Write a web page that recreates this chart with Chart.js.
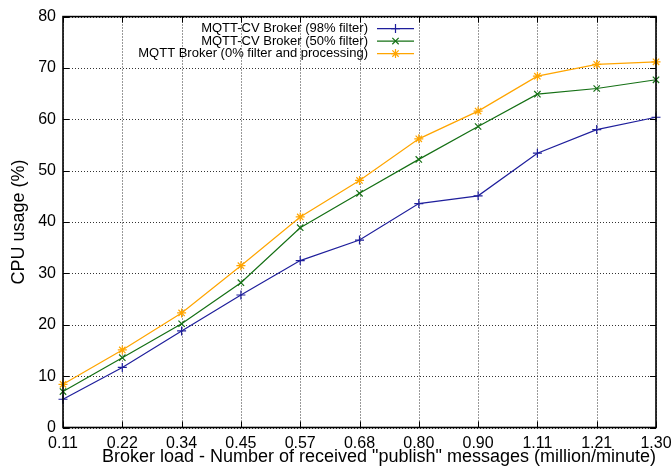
<!DOCTYPE html>
<html>
<head>
<meta charset="utf-8">
<script src="https://cdn.jsdelivr.net/npm/chart.js@4.4.1/dist/chart.umd.min.js"></script>
<style>
  html, body { margin: 0; padding: 0; background: #fff; }
  #wrap { width: 671px; height: 468px; position: relative; }
</style>
</head>
<body>
<div id="wrap"><canvas id="cpuChart" width="671" height="468"></canvas></div>
<script>
// data
const loads = ["0.11", "0.22", "0.34", "0.45", "0.57", "0.68", "0.80", "0.90", "1.11", "1.21", "1.30"];
const cv98 = [5.5, 11.7, 18.8, 25.8, 32.5, 36.5, 43.6, 45.1, 53.4, 58.0, 60.4];
const cv50 = [7.0, 13.6, 20.2, 28.2, 38.9, 45.6, 52.2, 58.6, 64.9, 66.0, 67.7];
const plain = [8.4, 15.1, 22.3, 31.5, 41.0, 48.1, 56.2, 61.6, 68.4, 70.7, 71.2];
const yTicks = [0, 10, 20, 30, 40, 50, 60, 70, 80];

const FONT = "'Liberation Sans', Arial, sans-serif";
Chart.defaults.font.family = FONT;
Chart.defaults.color = "#000";

// gnuplot-like frame: dotted grid, border, inward ticks (mirrored) and right-aligned key
const gnuFrame = {
    id: "gnuFrame",
    beforeDatasetsDraw(chart) {
        const c = chart.ctx, a = chart.chartArea;
        const xs = chart.scales.x, ys = chart.scales.y;
        c.save();
        c.strokeStyle = "#333";
        c.lineWidth = 1;
        c.setLineDash([1, 2]);
        c.beginPath();
        xs.ticks.forEach((t, i) => {
            const px = Math.round(xs.getPixelForTick(i)) + 0.5;
            c.moveTo(px, a.bottom); c.lineTo(px, a.top);
        });
        ys.ticks.forEach((t, i) => {
            const py = Math.round(ys.getPixelForTick(i)) + 0.5;
            c.moveTo(a.left, py); c.lineTo(a.right, py);
        });
        c.stroke();
        c.restore();
    },
    afterDatasetsDraw(chart) {
        const c = chart.ctx, a = chart.chartArea;
        const xs = chart.scales.x, ys = chart.scales.y;
        c.save();
        c.strokeStyle = "#000";
        c.lineWidth = 1;
        c.beginPath();
        xs.ticks.forEach((t, i) => {
            const px = Math.round(xs.getPixelForTick(i)) + 0.5;
            c.moveTo(px, a.bottom); c.lineTo(px, a.bottom - 6);
            c.moveTo(px, a.top); c.lineTo(px, a.top + 6);
        });
        ys.ticks.forEach((t, i) => {
            const py = Math.round(ys.getPixelForTick(i)) + 0.5;
            c.moveTo(a.left, py); c.lineTo(a.left + 6, py);
            c.moveTo(a.right, py); c.lineTo(a.right - 6, py);
        });
        c.stroke();
        c.lineWidth = 1.6;
        c.strokeRect(a.left, a.top, a.right - a.left, a.bottom - a.top);

        // key
        c.font = "13px " + FONT;
        c.textAlign = "right";
        c.textBaseline = "middle";
        const textRight = 368, lineL = 377, lineR = 414;
        chart.data.datasets.forEach((ds, i) => {
            const y = a.top + 12 + i * 12.5;
            c.fillStyle = "#000";
            c.fillText(ds.label, textRight, y);
            c.strokeStyle = ds.borderColor;
            c.lineWidth = 1.2;
            c.beginPath(); c.moveTo(lineL, y); c.lineTo(lineR, y); c.stroke();
            Chart.helpers.drawPoint(c, {
                pointStyle: ds.pointStyle, radius: 4.5, borderWidth: 1.2
            }, (lineL + lineR) / 2, y);
        });
        c.restore();
    }
};

const mk = (label, data, color, style) => ({
    label, data,
    borderColor: color, backgroundColor: color,
    borderWidth: 1.2,
    pointStyle: style, pointRadius: 4.5, pointBorderWidth: 1.2,
    pointBorderColor: color,
    tension: 0, fill: false
});

new Chart(document.getElementById("cpuChart"), {
    type: "line",
    data: {
        labels: loads,
        datasets: [
            mk("MQTT-CV Broker (98% filter)", cv98, "#1f1f9c", "cross"),
            mk("MQTT-CV Broker (50% filter)", cv50, "#157015", "crossRot"),
            mk("MQTT Broker (0% filter and processing)", plain, "#ffa500", "star")
        ]
    },
    options: {
        responsive: false,
        animation: false,
        layout: { padding: { top: 15, right: 15, left: 0, bottom: 0 } },
        plugins: { legend: { display: false }, tooltip: { enabled: false } },
        scales: {
            x: {
                type: "category",
                offset: false,
                grid: { display: false, drawTicks: false, tickLength: 0 },
                border: { display: false },
                ticks: { font: { size: 16 }, padding: 6, maxRotation: 0, autoSkip: false },
                title: {
                    display: true, align: "end",
                    text: 'Broker load - Number of received "publish" messages (million/minute)',
                    font: { size: 18 }, padding: { top: 0, bottom: 0 }
                },
                afterFit(scale) {
                    scale.height = 40.5;
                    scale.paddingLeft = 0;
                    scale.paddingRight = 0;
                }
            },
            y: {
                min: 0, max: 80,
                afterBuildTicks(scale) { scale.ticks = yTicks.map(v => ({ value: v })); },
                grid: { display: false, drawTicks: false, tickLength: 0 },
                border: { display: false },
                ticks: { font: { size: 16 }, padding: 7 },
                title: { display: true, text: "CPU usage (%)", font: { size: 18 }, padding: { top: 8, bottom: 0 } },
                afterFit(scale) { scale.width = 63; }
            }
        }
    },
    plugins: [gnuFrame]
});
</script>
</body>
</html>
